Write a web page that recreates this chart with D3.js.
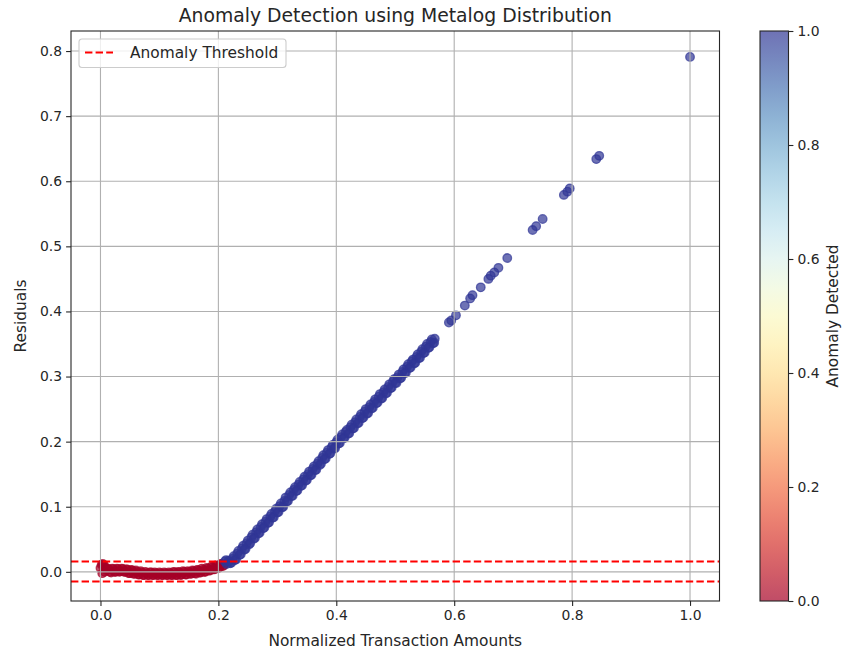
<!DOCTYPE html>
<html>
<head>
<meta charset="utf-8">
<script src="https://cdn.jsdelivr.net/npm/d3@7"></script>
<style>
  body { margin: 0; background: #fff; }
  svg { font-family: "DejaVu Sans", sans-serif; }
</style>
</head>
<body>
<div id="chart"></div>
<script>
// normal transactions (anomaly = 0)
var normalAmounts = [0.000, 0.002, 0.003, 0.004, 0.006, 0.007, 0.008, 0.010, 0.014, 0.018,
    0.022, 0.026, 0.030, 0.034, 0.038, 0.042, 0.046, 0.050, 0.054, 0.058,
    0.062, 0.066, 0.070, 0.074, 0.078, 0.082, 0.086, 0.090, 0.094, 0.098,
    0.102, 0.106, 0.110, 0.114, 0.118, 0.122, 0.126, 0.130, 0.134, 0.138,
    0.142, 0.146, 0.150, 0.154, 0.158, 0.162, 0.166, 0.170, 0.174, 0.178,
    0.182, 0.186, 0.190, 0.194, 0.198, 0.202, 0.206, 0.209,
    0.012, 0.016, 0.020, 0.024, 0.028, 0.032, 0.036, 0.040, 0.044, 0.048,
    0.052, 0.056, 0.060, 0.064, 0.068, 0.072, 0.076, 0.080, 0.084, 0.088,
    0.092, 0.096, 0.100, 0.104, 0.108, 0.112, 0.116, 0.120, 0.124, 0.128,
    0.132, 0.136, 0.140, 0.144, 0.148, 0.152, 0.156, 0.160, 0.164, 0.168,
    0.172, 0.176, 0.180, 0.184, 0.188, 0.192, 0.196, 0.200, 0.204, 0.208];
var normalResiduals = [0.006, 0.011, -0.002, 0.012, 0.010, 0.000, 0.006, 0.003, 0.004, -0.001,
    0.004, 0.000, 0.004, 0.001, 0.004, 0.000, 0.003, -0.002, 0.002, -0.003,
    0.000, -0.004, -0.001, -0.005, -0.002, -0.005, -0.001, -0.005, -0.002, -0.005,
    -0.002, -0.005, -0.002, -0.005, -0.002, -0.005, -0.001, -0.005, -0.001, -0.004,
    0.000, -0.004, 0.000, -0.003, 0.001, -0.003, 0.002, -0.001, 0.003, 0.000,
    0.005, 0.002, 0.007, 0.004, 0.009, 0.007, 0.012, 0.010,
    0.005, 0.000, 0.005, 0.000, 0.005, 0.000, 0.005, 0.000, 0.004, -0.002,
    0.003, -0.003, 0.002, -0.004, 0.001, -0.005, 0.000, -0.005, -0.001, -0.005,
    -0.001, -0.005, -0.001, -0.005, -0.001, -0.005, -0.001, -0.005, 0.000, -0.005,
    0.000, -0.005, 0.001, -0.004, 0.001, -0.003, 0.002, -0.002, 0.003, -0.001,
    0.005, 0.000, 0.006, 0.002, 0.008, 0.004, 0.010, 0.006, 0.012, 0.009];

// detected anomalies (anomaly = 1)
var anomalyAmounts = [0.211, 0.214, 0.217, 0.220, 0.224, 0.228, 0.232, 0.236, 0.240, 0.244,
    0.248, 0.252, 0.256, 0.260, 0.264, 0.268, 0.272, 0.276, 0.280, 0.284,
    0.288, 0.292, 0.296, 0.300, 0.304, 0.308, 0.312, 0.316, 0.320, 0.324,
    0.328, 0.332, 0.336, 0.340, 0.344, 0.348, 0.352, 0.356, 0.360, 0.364,
    0.368, 0.372, 0.376, 0.380, 0.384, 0.388, 0.392, 0.396, 0.400, 0.404,
    0.408, 0.412, 0.416, 0.420, 0.424, 0.428, 0.432, 0.436, 0.440, 0.444,
    0.448, 0.452, 0.456, 0.460, 0.464, 0.468, 0.472, 0.476, 0.480, 0.484,
    0.488, 0.492, 0.496, 0.500, 0.504, 0.508, 0.512, 0.516, 0.520, 0.524,
    0.528, 0.532, 0.536, 0.540, 0.544, 0.548, 0.552, 0.556, 0.560, 0.564,
    0.567, 0.591, 0.595, 0.603, 0.618, 0.627, 0.631, 0.645, 0.658, 0.662,
    0.668, 0.675, 0.690, 0.733, 0.739, 0.750, 0.786, 0.792, 0.796, 0.841,
    0.846, 1.000,
    0.213, 0.219, 0.222,
    0.226, 0.230, 0.234, 0.238, 0.242, 0.246, 0.250, 0.254, 0.258, 0.262,
    0.266, 0.270, 0.274, 0.278, 0.282, 0.286, 0.290, 0.294, 0.298, 0.302,
    0.306, 0.310, 0.314, 0.318, 0.322, 0.326, 0.330, 0.334, 0.338, 0.342,
    0.346, 0.350, 0.354, 0.358, 0.362, 0.366, 0.370, 0.374, 0.378, 0.382,
    0.386, 0.390, 0.394, 0.398, 0.402, 0.406, 0.410, 0.414, 0.418, 0.422,
    0.426, 0.430, 0.434, 0.438, 0.442, 0.446, 0.450, 0.454, 0.458, 0.462,
    0.466, 0.470, 0.474, 0.478, 0.482, 0.486, 0.490, 0.494, 0.498, 0.502,
    0.506, 0.510, 0.514, 0.518, 0.522, 0.526, 0.530, 0.534, 0.538, 0.542,
    0.546, 0.550, 0.554, 0.558, 0.562, 0.566];
var anomalyResiduals = [0.016, 0.012, 0.017, 0.013, 0.020, 0.018, 0.028, 0.026, 0.036, 0.034,
    0.044, 0.042, 0.053, 0.051, 0.061, 0.059, 0.069, 0.067, 0.077, 0.075,
    0.085, 0.083, 0.093, 0.091, 0.101, 0.099, 0.109, 0.108, 0.118, 0.116,
    0.126, 0.124, 0.134, 0.132, 0.142, 0.140, 0.150, 0.148, 0.158, 0.156,
    0.166, 0.164, 0.175, 0.173, 0.183, 0.181, 0.191, 0.189, 0.199, 0.197,
    0.207, 0.205, 0.215, 0.212, 0.222, 0.220, 0.230, 0.228, 0.238, 0.236,
    0.246, 0.243, 0.253, 0.251, 0.261, 0.259, 0.269, 0.266, 0.276, 0.274,
    0.284, 0.282, 0.292, 0.290, 0.299, 0.297, 0.307, 0.305, 0.315, 0.313,
    0.323, 0.320, 0.330, 0.328, 0.338, 0.336, 0.346, 0.344, 0.353, 0.351,
    0.358, 0.383, 0.386, 0.394, 0.409, 0.420, 0.425, 0.437, 0.450, 0.455,
    0.460, 0.467, 0.482, 0.525, 0.531, 0.542, 0.579, 0.584, 0.589, 0.634,
    0.639, 0.791,
    0.018, 0.016, 0.014,
    0.024, 0.019, 0.032, 0.027, 0.040, 0.035, 0.048, 0.044, 0.057, 0.052,
    0.065, 0.060, 0.073, 0.068, 0.081, 0.076, 0.089, 0.084, 0.097, 0.092,
    0.105, 0.100, 0.114, 0.109, 0.122, 0.117, 0.130, 0.125, 0.138, 0.133,
    0.146, 0.141, 0.154, 0.149, 0.162, 0.157, 0.170, 0.166, 0.179, 0.174,
    0.187, 0.182, 0.195, 0.190, 0.203, 0.198, 0.211, 0.206, 0.218, 0.213,
    0.226, 0.221, 0.234, 0.229, 0.242, 0.237, 0.250, 0.244, 0.257, 0.252,
    0.265, 0.260, 0.273, 0.267, 0.280, 0.275, 0.288, 0.283, 0.296, 0.290,
    0.303, 0.298, 0.311, 0.306, 0.319, 0.314, 0.326, 0.321, 0.334, 0.329,
    0.342, 0.337, 0.350, 0.345, 0.357, 0.352];

var thresholds = [0.016, -0.015];
var xTicks = [0.0, 0.2, 0.4, 0.6, 0.8, 1.0];
var yTicks = [0.0, 0.1, 0.2, 0.3, 0.4, 0.5, 0.6, 0.7, 0.8];
var colorTicks = [0.0, 0.2, 0.4, 0.6, 0.8, 1.0];

var W = 844, H = 652;
var margin = {top: 31, left: 71},
    width = 648.5,
    height = 570;
var tickFont = "13.9px", labelFont = "15.4px", titleFont = "18.8px";

var points = [];
normalAmounts.forEach(function(d, i) {
    points.push({x: d, y: normalResiduals[i], anomaly: 0});
});
anomalyAmounts.forEach(function(d, i) {
    points.push({x: d, y: anomalyResiduals[i], anomaly: 1});
});

// matplotlib-style 5% margins
function padded(ext) {
    var p = (ext[1] - ext[0]) * 0.05;
    return [ext[0] - p, ext[1] + p];
}

var x = d3.scaleLinear()
    .domain(padded(d3.extent(points, function(d) { return d.x; })))
    .range([0, width]);
var y = d3.scaleLinear()
    .domain(padded(d3.extent(points, function(d) { return d.y; })))
    .range([height, 0]);
var color = function(v) { return d3.interpolateRdYlBu(v); };

var svg = d3.select("#chart").append("svg")
    .attr("width", W)
    .attr("height", H);

var g = svg.append("g")
    .attr("transform", "translate(" + margin.left + "," + margin.top + ")");

var defs = svg.append("defs");
defs.append("clipPath").attr("id", "clip")
    .append("rect").attr("width", width).attr("height", height);

var plot = g.append("g").attr("clip-path", "url(#clip)");

// scatter
plot.selectAll("circle")
    .data(points)
    .enter().append("circle")
    .attr("cx", function(d) { return x(d.x); })
    .attr("cy", function(d) { return y(d.y); })
    .attr("r", 4.3)
    .style("fill", function(d) { return color(d.anomaly); })
    .style("stroke", function(d) { return color(d.anomaly); })
    .style("stroke-width", 1.3)
    .style("fill-opacity", 0.7)
    .style("stroke-opacity", 0.7);

// grid (drawn above the scatter, like matplotlib)
plot.selectAll(".vgrid")
    .data(xTicks)
    .enter().append("line")
    .attr("x1", function(d) { return x(d); })
    .attr("x2", function(d) { return x(d); })
    .attr("y1", 0).attr("y2", height)
    .style("stroke", "#b0b0b0").style("stroke-width", 1.1);
plot.selectAll(".hgrid")
    .data(yTicks)
    .enter().append("line")
    .attr("y1", function(d) { return y(d); })
    .attr("y2", function(d) { return y(d); })
    .attr("x1", 0).attr("x2", width)
    .style("stroke", "#b0b0b0").style("stroke-width", 1.1);

// threshold lines
plot.selectAll(".thr")
    .data(thresholds)
    .enter().append("line")
    .attr("x1", 0).attr("x2", width)
    .attr("y1", function(d) { return y(d); })
    .attr("y2", function(d) { return y(d); })
    .style("stroke", "red")
    .style("stroke-width", 2)
    .style("stroke-dasharray", "7.4,3.2");

// axes
var xAxis = g.append("g")
    .attr("transform", "translate(0," + height + ")")
    .call(d3.axisBottom(x).tickValues(xTicks).tickFormat(d3.format(".1f")).tickSizeOuter(0).tickSize(4.9).tickPadding(4));
var yAxis = g.append("g")
    .call(d3.axisLeft(y).tickValues(yTicks).tickFormat(d3.format(".1f")).tickSizeOuter(0).tickSize(4.9).tickPadding(4));
[xAxis, yAxis].forEach(function(a) {
    a.select(".domain").remove();
    a.selectAll("text").style("font-size", tickFont).style("fill", "#262626")
        .style("font-family", "DejaVu Sans, sans-serif");
    a.selectAll("line").style("stroke", "#262626").style("stroke-width", 1.1);
});

g.append("rect")
    .attr("width", width).attr("height", height)
    .style("fill", "none").style("stroke", "#262626").style("stroke-width", 1.1);

// labels
svg.append("text")
    .attr("x", margin.left + width / 2).attr("y", 22)
    .attr("text-anchor", "middle")
    .style("font-size", titleFont).style("fill", "#262626")
    .text("Anomaly Detection using Metalog Distribution");
svg.append("text")
    .attr("x", margin.left + width / 2).attr("y", 646)
    .attr("text-anchor", "middle")
    .style("font-size", labelFont).style("fill", "#262626")
    .text("Normalized Transaction Amounts");
svg.append("text")
    .attr("transform", "translate(26," + (margin.top + height / 2) + ") rotate(-90)")
    .attr("text-anchor", "middle")
    .style("font-size", labelFont).style("fill", "#262626")
    .text("Residuals");

// legend
var legend = g.append("g").attr("transform", "translate(8,8)");
legend.append("rect")
    .attr("width", 207).attr("height", 28.5)
    .attr("rx", 3)
    .style("fill", "#fff").style("fill-opacity", 0.8)
    .style("stroke", "#cccccc").style("stroke-width", 1.1);
legend.append("line")
    .attr("x1", 6).attr("x2", 34).attr("y1", 13.5).attr("y2", 13.5)
    .style("stroke", "red").style("stroke-width", 2)
    .style("stroke-dasharray", "7.4,3.2");
legend.append("text")
    .attr("x", 51).attr("y", 19)
    .style("font-size", labelFont).style("fill", "#262626")
    .text("Anomaly Threshold");

// colorbar
var cb = {x: 760, y: margin.top, w: 28.5, h: height};
var grad = defs.append("linearGradient")
    .attr("id", "cbgrad")
    .attr("x1", 0).attr("y1", 1).attr("x2", 0).attr("y2", 0);
d3.range(0, 1.0001, 0.05).forEach(function(t) {
    grad.append("stop")
        .attr("offset", t)
        .attr("stop-color", color(t))
        .attr("stop-opacity", 0.7);
});
var cScale = d3.scaleLinear().domain([0, 1]).range([cb.h, 0]);
var cbg = svg.append("g").attr("transform", "translate(" + cb.x + "," + cb.y + ")");
cbg.append("rect")
    .attr("width", cb.w).attr("height", cb.h)
    .style("fill", "url(#cbgrad)")
    .style("stroke", "#262626").style("stroke-width", 1.1);
var cAxis = cbg.append("g")
    .attr("transform", "translate(" + cb.w + ",0)")
    .call(d3.axisRight(cScale).tickValues(colorTicks).tickFormat(d3.format(".1f")).tickSizeOuter(0).tickSize(4.9).tickPadding(4));
cAxis.select(".domain").remove();
cAxis.selectAll("text").style("font-size", tickFont).style("fill", "#262626")
    .style("font-family", "DejaVu Sans, sans-serif");
cAxis.selectAll("line").style("stroke", "#262626").style("stroke-width", 1.1);
svg.append("text")
    .attr("transform", "translate(838," + (cb.y + cb.h / 2) + ") rotate(-90)")
    .attr("text-anchor", "middle")
    .style("font-size", labelFont).style("fill", "#262626")
    .text("Anomaly Detected");
</script>
</body>
</html>
